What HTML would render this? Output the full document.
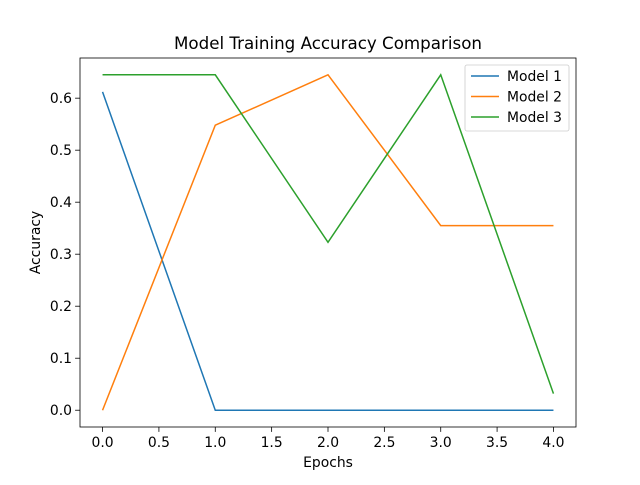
<!DOCTYPE html>
<html><head><meta charset="utf-8"><style>body{margin:0;background:#fff}svg{font-family:"DejaVu Sans","Liberation Sans",sans-serif}</style></head>
<body>
<svg id="chart" width="640" height="480" xmlns="http://www.w3.org/2000/svg"></svg>
<script>
const epochs = [0, 1, 2, 3, 4];
const model1 = [0.612, 0, 0, 0, 0];
const model2 = [0, 0.548, 0.645, 0.355, 0.355];
const model3 = [0.645, 0.645, 0.323, 0.645, 0.032];
const seriesNames = ["Model 1", "Model 2", "Model 3"];
const xTicks = [0, 0.5, 1, 1.5, 2, 2.5, 3, 3.5, 4];
const yTicks = [0, 0.1, 0.2, 0.3, 0.4, 0.5, 0.6];
const colors = ["#1f77b4", "#ff7f0e", "#2ca02c"];
const L = 80, R = 576, T = 58, B = 427;
const xMin = -0.2, xMax = 4.2, yMin = -0.03225, yMax = 0.67725;
const sx = v => L + (v - xMin) / (xMax - xMin) * (R - L);
const sy = v => B - (v - yMin) / (yMax - yMin) * (B - T);
const svg = document.getElementById('chart');
const NS = "http://www.w3.org/2000/svg";
function mk(tag, attrs, parent) {
  const e = document.createElementNS(NS, tag);
  for (const k in attrs) e.setAttribute(k, attrs[k]);
  (parent || svg).appendChild(e);
  return e;
}
[model1, model2, model3].forEach((s, i) => {
  const p = mk('polyline', {points: s.map((v, j) => sx(epochs[j]) + ',' + sy(v)).join(' '), fill: 'none', stroke: colors[i], 'stroke-width': 1.5});
  
  
});
const fr = mk('rect', {x: L, y: T, width: R - L, height: B - T, fill: 'none', stroke: '#000', 'stroke-width': 0.8});


xTicks.forEach(v => {
  const x = sx(v);
  mk('line', {x1: x, x2: x, y1: B, y2: B + 4.9, stroke: '#000', 'stroke-width': 0.8});
  const t = mk('text', {x: x, y: B + 20, 'font-size': 13.9, 'text-anchor': 'middle'});
  t.textContent = v.toFixed(1);
  
  
});
yTicks.forEach(v => {
  const y = sy(v);
  mk('line', {x1: L - 4.9, x2: L, y1: y, y2: y, stroke: '#000', 'stroke-width': 0.8});
  const t = mk('text', {x: L - 8, y: y + 5, 'font-size': 13.9, 'text-anchor': 'end'});
  t.textContent = v.toFixed(1);
  
  
});
let t = mk('text', {x: (L + R) / 2, y: 467, 'font-size': 13.9, 'text-anchor': 'middle'});
t.textContent = 'Epochs';


t = mk('text', {x: 40, y: (T + B) / 2, 'font-size': 13.9, 'text-anchor': 'middle', transform: `rotate(-90 40 ${(T + B) / 2})`});
t.textContent = 'Accuracy';


t = mk('text', {x: (L + R) / 2, y: 49, 'font-size': 16.7, 'text-anchor': 'middle'});
t.textContent = 'Model Training Accuracy Comparison';


const lg = mk('g', {});


mk('rect', {x: 465, y: 65, width: 104, height: 66, rx: 2, fill: '#fff', stroke: '#ccc', 'stroke-width': 0.8}, lg);
seriesNames.forEach((n, i) => {
  const y = 76 + i * 20.5;
  mk('line', {x1: 471, x2: 499, y1: y, y2: y, stroke: colors[i], 'stroke-width': 1.5}, lg);
  const tx = mk('text', {x: 507, y: y + 5, 'font-size': 13.9}, lg);
  tx.textContent = n;
  
  
});
</script>
</body></html>
